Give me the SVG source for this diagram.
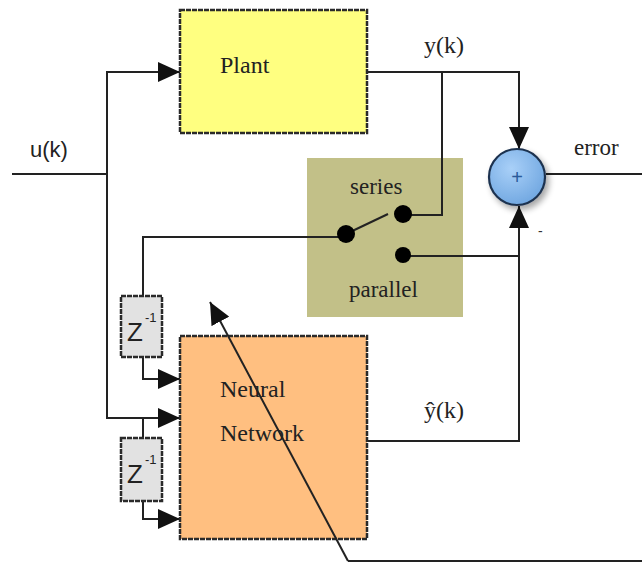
<svg xmlns="http://www.w3.org/2000/svg" width="642" height="562" viewBox="0 0 642 562">
<style>
.ln{fill:none;stroke:#222;stroke-width:2}
.box{stroke:#2a2a2a;stroke-width:2.5;stroke-dasharray:5 1}
.serif{font-family:"Liberation Serif",serif;fill:#222}
.sans{font-family:"Liberation Sans",sans-serif;fill:#222}
</style>
<defs>
<marker id="ahB" viewBox="0 0 10 10" refX="10" refY="5" markerWidth="22" markerHeight="20" markerUnits="userSpaceOnUse" orient="auto" preserveAspectRatio="none">
<path d="M0,0 L10,5 L0,10 z" fill="#111"/>
</marker>
<radialGradient id="cg" cx="0.4" cy="0.35" r="0.7">
<stop offset="0" stop-color="#a9d0f8"/>
<stop offset="1" stop-color="#6fa6e0"/>
</radialGradient>
<filter id="sh" x="-30%" y="-30%" width="170%" height="170%">
<feGaussianBlur in="SourceAlpha" stdDeviation="3"/>
<feOffset dx="3" dy="4"/>
<feComponentTransfer><feFuncA type="linear" slope="0.35"/></feComponentTransfer>
<feMerge><feMergeNode/><feMergeNode in="SourceGraphic"/></feMerge>
</filter>
</defs>

<g id="switchbox">
<rect x="307" y="158" width="156" height="159" fill="#c2c088"/>
<text class="serif" x="350" y="194" style="font-size:23px">series</text>
<text class="serif" x="349" y="297" style="font-size:23px">parallel</text>
</g>

<g id="connectors">
<polyline class="ln" points="12,174 107,174"/>
<polyline class="ln" points="107,174 107,72 180,72" marker-end="url(#ahB)"/>
<polyline class="ln" points="107,174 107,418 180,418" marker-end="url(#ahB)"/>
<polyline class="ln" points="367,72 519,72 519,149" marker-end="url(#ahB)"/>
<polyline class="ln" points="442,72 442,215 403,215"/>
<line class="ln" x1="346" y1="234" x2="388" y2="214"/>
<polyline class="ln" points="346,237 143,237 143,296"/>
<polyline class="ln" points="403,256 519,256"/>
<polyline class="ln" points="367,441 519,441 519,206" marker-end="url(#ahB)"/>
<polyline class="ln" points="546,174 642,174"/>
<polyline class="ln" points="143,357 143,379 180,379" marker-end="url(#ahB)"/>
<polyline class="ln" points="143,418 143,438"/>
<polyline class="ln" points="143,501 143,519 180,519" marker-end="url(#ahB)"/>
<polyline class="ln" points="642,561 348,561"/>
</g>

<g id="plant">
<rect class="box" x="180" y="10" width="187" height="123" fill="#ffff80"/>
<text class="serif" x="220" y="73" style="font-size:24px">Plant</text>
</g>

<g id="nn">
<rect class="box" x="180" y="336" width="187" height="203" fill="#ffbf80"/>
<text class="serif" x="220" y="397" style="font-size:24px">Neural</text>
<text class="serif" x="220" y="441" style="font-size:24px">Network</text>
</g>

<g id="z1">
<rect class="box" x="121" y="296" width="41" height="61" fill="#e2e2e2"/>
<text class="sans" x="127" y="341" style="font-size:26px">Z</text>
<text class="sans" x="145" y="322" style="font-size:13px">-1</text>
</g>

<g id="z2">
<rect class="box" x="121" y="438" width="41" height="63" fill="#e2e2e2"/>
<text class="sans" x="127" y="483" style="font-size:26px">Z</text>
<text class="sans" x="145" y="464" style="font-size:13px">-1</text>
</g>

<g id="switch-contacts">
<circle cx="346" cy="234" r="9" fill="#000"/>
<circle cx="403" cy="214" r="9" fill="#000"/>
<circle cx="403" cy="255" r="8" fill="#000"/>
</g>

<g id="sum">
<circle cx="517" cy="177" r="28" fill="url(#cg)" stroke="#1e3350" stroke-width="2.2" filter="url(#sh)"/>
<text x="517" y="184" text-anchor="middle" font-family="Liberation Sans,sans-serif" font-size="20" fill="#2a5a9a">+</text>
<text x="538" y="236" font-family="Liberation Sans,sans-serif" font-size="14" fill="#333">-</text>
</g>

<g id="adapt">
<line class="ln" x1="348" y1="561" x2="210" y2="302" marker-end="url(#ahB)"/>
</g>

<g id="labels">
<text class="sans" x="30" y="157" style="font-size:22px">u(k)</text>
<text class="serif" x="424" y="53" style="font-size:24px">y(k)</text>
<text class="serif" x="574" y="155" style="font-size:23px">error</text>
<text class="serif" x="424" y="418" style="font-size:24px">ŷ(k)</text>
</g>
</svg>
